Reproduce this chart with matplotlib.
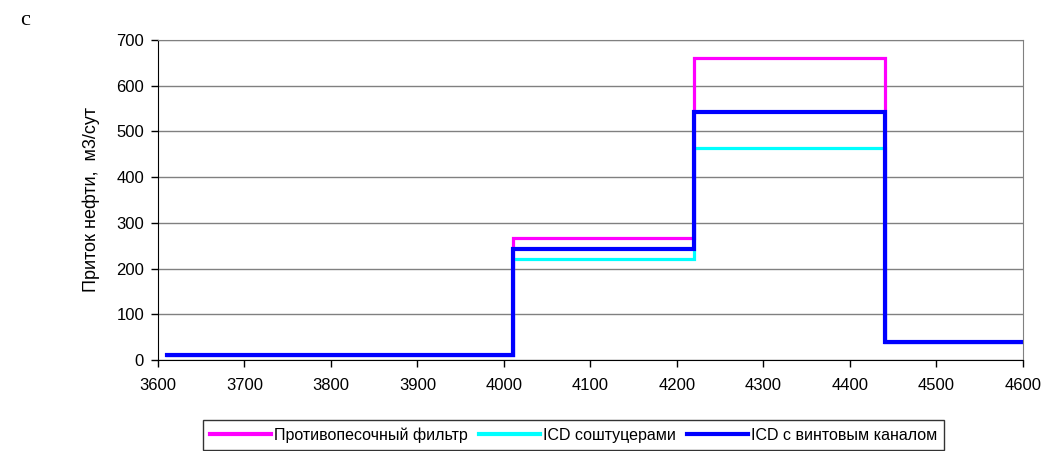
import matplotlib
matplotlib.use('Agg')
import matplotlib.pyplot as plt

# глубина, м (границы интервалов)
depth = [3610, 4010, 4220, 4440, 4600]

# приток нефти по интервалам, м3/сут
sand_filter = [10, 267, 660, 40, 40]
icd_nozzle = [10, 220, 463, 40, 40]
icd_helix = [10, 243, 542, 40, 40]

labels = [u'Противопесочный фильтр', u'ICD соштуцерами', u'ICD с винтовым каналом']

plt.rcParams['font.family'] = ['Liberation Sans', 'DejaVu Sans']

fig = plt.figure(figsize=(10.49, 4.51), dpi=100)
ax = fig.add_axes([0.1506, 0.2018, 0.8246, 0.7095])

ax.plot(depth, sand_filter, drawstyle='steps-post', color='#ff00ff', linewidth=2.3,
        solid_joinstyle='miter', label=labels[0])
ax.plot(depth, icd_nozzle, drawstyle='steps-post', color='#00ffff', linewidth=2.3,
        solid_joinstyle='miter', label=labels[1])
ax.plot(depth, icd_helix, drawstyle='steps-post', color='#0000ff', linewidth=3.0,
        solid_joinstyle='miter', label=labels[2])

ax.set_xlim(3600, 4600)
ax.set_ylim(0, 700)
ax.set_xticks(range(3600, 4601, 100))
ax.set_yticks(range(0, 701, 100))
ax.yaxis.grid(True, color='#808080', linewidth=1)
ax.set_axisbelow(True)

for side in ['top', 'right']:
    ax.spines[side].set_color('#808080')
for side in ['left', 'bottom']:
    ax.spines[side].set_color('black')
ax.tick_params(axis='both', direction='out', length=5, width=1, labelsize=12, pad=5)
ax.tick_params(axis='x', pad=8)

ax.set_ylabel(u'Приток нефти,  м3/сут', fontsize=13, labelpad=12)

fig.text(0.019, 0.955, 'c', fontsize=16, family='Liberation Serif', va='center', ha='left')

leg = fig.legend(loc='upper center', bbox_to_anchor=(0.547, 0.068), ncol=3,
                 frameon=True, fancybox=False, edgecolor='black', fontsize=11.5,
                 handlelength=3.8, handletextpad=0.2, columnspacing=0.7,
                 borderpad=0.45, borderaxespad=0)
leg.get_frame().set_linewidth(1)
for line in leg.get_lines():
    line.set_linewidth(3.0)

fig.savefig('out.png', dpi=100)
